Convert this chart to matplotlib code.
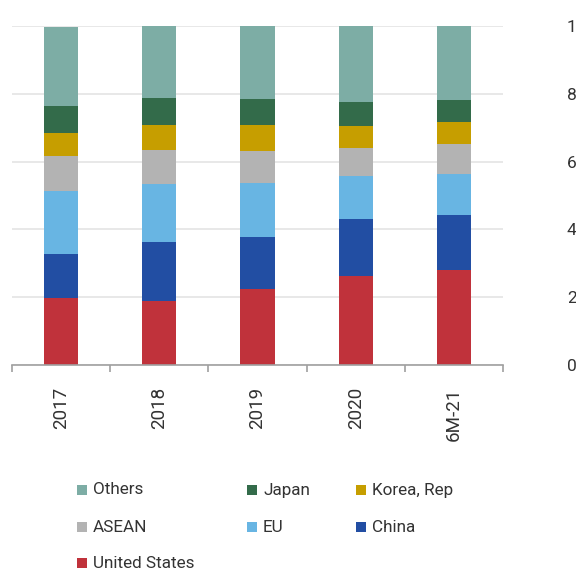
import matplotlib
matplotlib.use("Agg")
import matplotlib.pyplot as plt
from matplotlib.patches import Rectangle
import numpy as np

plt.rcParams['font.family'] = ['Roboto', 'DejaVu Sans']

periods = ["2017", "2018", "2019", "2020", "6M-21"]

# Share of exports by destination (%), stacked bottom to top
united_states = [19.9, 18.9, 22.4, 26.3, 28.0]
china = [12.9, 17.4, 15.3, 16.8, 16.2]
eu = [18.6, 17.1, 15.9, 12.7, 12.1]
asean = [10.3, 10.0, 9.4, 8.3, 8.8]
korea = [6.8, 7.4, 7.7, 6.5, 6.5]
japan = [8.0, 8.0, 7.7, 7.1, 6.5]
others = [23.3, 21.2, 21.5, 22.4, 21.8]

y_ticks = [0, 20, 40, 60, 80, 100]

series = [
    ("United States", united_states, "#c0323b"),
    ("China", china, "#224ea3"),
    ("EU", eu, "#68b5e3"),
    ("ASEAN", asean, "#b3b3b3"),
    ("Korea, Rep", korea, "#c69e00"),
    ("Japan", japan, "#336b4a"),
    ("Others", others, "#7dada5"),
]
colors = {name: c for name, _, c in series}

fig = plt.figure(figsize=(5.76, 5.72), dpi=100)
ax = fig.add_axes([12 / 576, 1 - 365 / 572, (503 - 12) / 576, (365 - 26) / 572])

x = np.arange(len(periods))
bottom = np.zeros(len(periods))
for name, vals, col in series:
    vals = np.array(vals)
    ax.bar(x, vals, width=0.35, bottom=bottom, color=col, zorder=3, linewidth=0)
    bottom += vals

ax.set_xlim(-0.5, len(periods) - 0.5)
ax.set_ylim(0, 100)
ax.set_yticks(y_ticks)
ax.set_yticklabels([str(v) for v in y_ticks])
ax.yaxis.tick_right()
ax.tick_params(axis='y', length=0, pad=46, labelsize=12.5, labelcolor="#333333")
ax.grid(axis='y', color="#e6e6e6", linewidth=1.3, zorder=0)

ax.set_xticks(x)
ax.set_xticklabels(periods, rotation=90, va='top', ha='center')
ax.tick_params(axis='x', which='major', length=0, pad=16, labelsize=13.5, labelcolor="#333333")
ax.set_xticks(np.arange(-0.5, len(periods), 1.0), minor=True)
ax.tick_params(axis='x', which='minor', length=5, width=1.2, color="#a0a0a0", direction='out')

for side in ["top", "left", "right"]:
    ax.spines[side].set_visible(False)
ax.spines["bottom"].set_color("#a0a0a0")
ax.spines["bottom"].set_linewidth(1.2)
ax.spines["bottom"].set_zorder(4)

# Legend laid out in three rows
legend_rows = [["Others", "Japan", "Korea, Rep"], ["ASEAN", "EU", "China"], ["United States"]]
col_x = [77, 247, 356]
row_y = [490, 527, 563]
W, H = 576.0, 572.0
for r, names in enumerate(legend_rows):
    for c, name in enumerate(names):
        px, py = col_x[c], row_y[r]
        fig.add_artist(Rectangle((px / W, 1 - (py + 5) / H), 10 / W, 10 / H,
                                 transform=fig.transFigure, color=colors[name], linewidth=0))
        fig.text((px + 16) / W, 1 - py / H, name, fontsize=12.3, color="#333333",
                 va='center', ha='left')

fig.savefig("out.png", dpi=100)
